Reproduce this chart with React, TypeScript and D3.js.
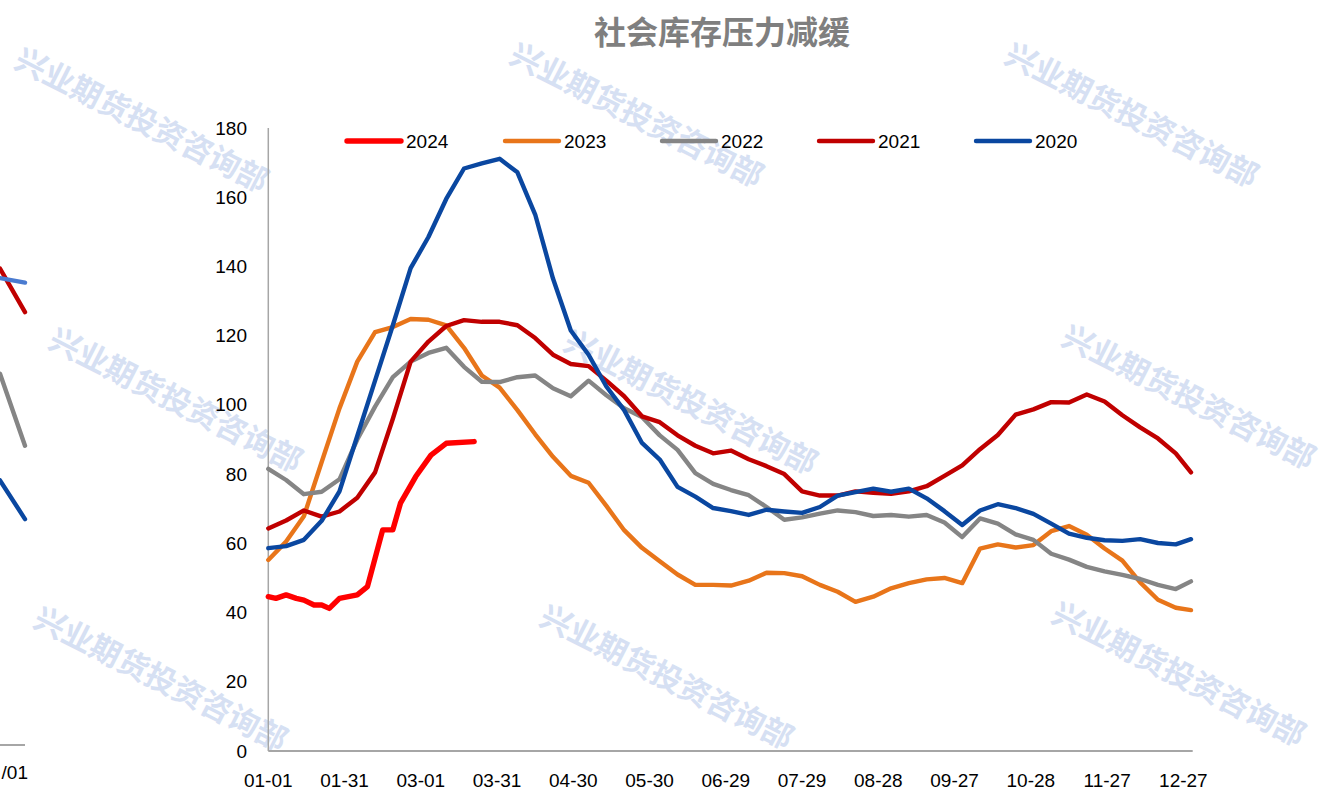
import React from "react";
import * as d3 from "d3";

const W = 1337;
const H = 789;

const title = "社会库存压力减缓";
const watermarkText = "兴业期货投资咨询部";

// day-of-year grid (weekly) for 2020-2023
const weekDays = [0, 7, 14, 21, 28, 35, 42, 49, 56, 63, 70, 77, 84, 91, 98, 105, 112, 119, 126, 133, 140, 147, 154, 161, 168, 175, 182, 189, 196, 203, 210, 217, 224, 231, 238, 245, 252, 259, 266, 273, 280, 287, 294, 301, 308, 315, 322, 329, 336, 343, 350, 357, 363];

const days2024 = [0, 3, 7, 11, 14, 18, 21, 24, 28, 35, 39, 45, 49, 52, 58, 64, 70, 81];
const values2024 = [44.6, 44.1, 45.1, 44.1, 43.6, 42.2, 42.2, 41.2, 44.1, 45.1, 47.5, 63.9, 63.9, 71.6, 79.3, 85.5, 88.9, 89.4];

const values2023 = [55.2, 60.5, 67.8, 83.5, 99, 112.5, 121, 122.5, 124.8, 124.6, 123, 116.5, 108.5, 105, 98.5, 91.5, 85, 79.5, 77.5, 70.8, 63.8, 58.7, 54.8, 51, 48, 48, 47.8, 49.2, 51.5, 51.4, 50.5, 48, 46, 43.1, 44.6, 47, 48.5, 49.6, 50, 48.5, 58.5, 59.7, 58.8, 59.5, 63.5, 65, 62.5, 58.5, 55, 48.7, 43.7, 41.4, 40.7];

const values2022 = [81.5, 78.3, 74.2, 74.9, 78.5, 90, 99.5, 108, 112.5, 115, 116.5, 111, 106.7, 106.6, 108, 108.5, 104.8, 102.5, 107, 102.8, 99, 96.5, 91.2, 87, 80.3, 77.2, 75.4, 73.9, 70.5, 66.8, 67.5, 68.6, 69.5, 69, 67.9, 68.2, 67.7, 68.2, 66, 61.8, 67.2, 65.7, 62.6, 61, 57, 55.3, 53.2, 51.9, 50.9, 49.7, 48, 46.8, 49];

const values2021 = [64.3, 66.6, 69.5, 67.7, 69.2, 73.2, 80.5, 96, 112.5, 118.3, 122.8, 124.5, 124, 124, 123, 119.3, 114.5, 111.8, 111.2, 107, 102.5, 96.7, 95, 91.2, 88.2, 86, 86.8, 84.3, 82.3, 80, 75, 73.8, 73.8, 75, 74.6, 74.3, 75, 76.5, 79.5, 82.5, 87.2, 91.3, 97.2, 98.7, 100.8, 100.7, 103, 101, 97, 93.5, 90.3, 86, 80.5];

const values2020 = [58.6, 59.2, 61, 66.5, 75, 91, 107, 123, 139.5, 148.5, 159.5, 168.3, 169.8, 171.1, 167.2, 155, 136.5, 121.5, 114.5, 105.3, 98.5, 89, 84.2, 76.3, 73.5, 70.2, 69.3, 68.2, 69.7, 69.2, 68.8, 70.5, 73.8, 74.8, 75.8, 74.9, 75.8, 73, 69.3, 65.3, 69.5, 71.3, 70.2, 68.5, 65.7, 62.8, 61.6, 60.9, 60.7, 61.2, 60.1, 59.7, 61.2];

const seriesNames = ["2024", "2023", "2022", "2021", "2020"];
const seriesColors = ["#FF0000", "#E8751A", "#858585", "#C00000", "#0A47A0"];
const seriesWidths = [5.4, 4.4, 4.4, 4.4, 4.4];

const xTickDays = [0, 30, 60, 90, 120, 150, 180, 210, 240, 270, 300, 330, 360];
const xTickLabels = ["01-01", "01-31", "03-01", "03-31", "04-30", "05-30", "06-29", "07-29", "08-28", "09-27", "10-28", "11-27", "12-27"];
const yTicks = [0, 20, 40, 60, 80, 100, 120, 140, 160, 180];

// fragment of the neighbouring chart at the left edge
const fragPos = [0, 1];
const fragRed = [139, 126.3];
const fragLightBlue = [136.2, 134.9];
const fragGray = [108.3, 87.3];
const fragBlue = [77.2, 65.9];

const watermarkCenters: [number, number][] = [
  [143, 118], [638, 113], [1133, 113],
  [177, 398], [692, 400], [1190, 395],
  [162, 677], [668, 675], [1180, 672],
];

export default function App() {
  const x = d3.scaleLinear().domain([0, 363]).range([268.3, 1191]);
  const y = d3.scaleLinear().domain([0, 180]).range([751, 128]);

  const series = [
    { days: days2024, vals: values2024 },
    { days: weekDays, vals: values2023 },
    { days: weekDays, vals: values2022 },
    { days: weekDays, vals: values2021 },
    { days: weekDays, vals: values2020 },
  ];

  const line = d3
    .line<[number, number]>()
    .x((d) => x(d[0]))
    .y((d) => y(d[1]))
    .curve(d3.curveLinear);

  const fx = d3.scaleLinear().domain([0, 1]).range([0, 25]);
  const fy = d3.scaleLinear().domain([0, 180]).range([745, 128]);
  const fragLine = d3
    .line<[number, number]>()
    .x((d) => fx(d[0]))
    .y((d) => fy(d[1]));
  const frags = [
    { vals: fragRed, color: "#C00000" },
    { vals: fragLightBlue, color: "#4A7BD0" },
    { vals: fragGray, color: "#858585" },
    { vals: fragBlue, color: "#0A47A0" },
  ];

  const legendLineX = [347, 505, 662, 819, 976];
  const legendY = 141;

  return (
    <svg
      width={W}
      height={H}
      style={{ position: "absolute", left: 0, top: 0, background: "#fff" }}
      fontFamily="'Liberation Sans', Arial, sans-serif"
    >
      <rect x={0} y={0} width={W} height={H} fill="#fff" />

      {/* watermarks */}
      {watermarkCenters.map(([cx, cy], i) => (
        <text
          key={"wm" + i}
          x={cx}
          y={cy}
          transform={`rotate(27 ${cx} ${cy})`}
          textAnchor="middle"
          dominantBaseline="central"
          fontFamily="'Noto Sans CJK SC', sans-serif"
          fontWeight="bold"
          fontSize={31}
          fill="#C9D6EF"
          opacity={0.75}
        >
          {watermarkText}
        </text>
      ))}

      {/* left fragment */}
      <line x1={0} x2={25} y1={745} y2={745} stroke="#A6A6A6" strokeWidth={2} />
      <text x={28} y={772} textAnchor="end" dominantBaseline="central" fontSize={19} fill="#000">
        /01
      </text>
      {frags.map((f, i) => (
        <path
          key={"fr" + i}
          d={fragLine(fragPos.map((p, j) => [p, f.vals[j]] as [number, number])) || ""}
          fill="none"
          stroke={f.color}
          strokeWidth={4.4}
          strokeLinecap="round"
        />
      ))}

      {/* title */}
      <text
        x={722}
        y={30}
        textAnchor="middle"
        dominantBaseline="central"
        fontFamily="'Noto Sans CJK SC', sans-serif"
        fontWeight="bold"
        fontSize={32}
        fill="#7F7F7F"
      >
        {title}
      </text>

      {/* axes */}
      <line x1={268.3} x2={268.3} y1={128} y2={751} stroke="#A6A6A6" strokeWidth={1.5} />
      <line x1={268.3} x2={1192.7} y1={751} y2={751} stroke="#A6A6A6" strokeWidth={2} />

      {yTicks.map((t) => (
        <text key={"yt" + t} x={247} y={y(t)} textAnchor="end" dominantBaseline="central" fontSize={19} fill="#000">
          {t}
        </text>
      ))}
      {xTickDays.map((d, i) => (
        <text key={"xt" + d} x={x(d)} y={780} textAnchor="middle" dominantBaseline="central" fontSize={19} fill="#000">
          {xTickLabels[i]}
        </text>
      ))}

      {/* series */}
      {series.map((s, i) => (
        <path
          key={"s" + i}
          d={line(s.days.map((d, j) => [d, s.vals[j]] as [number, number])) || ""}
          fill="none"
          stroke={seriesColors[i]}
          strokeWidth={seriesWidths[i]}
          strokeLinejoin="round"
          strokeLinecap="round"
        />
      ))}

      {/* legend */}
      {seriesNames.map((n, i) => (
        <g key={"lg" + n}>
          <line
            x1={legendLineX[i]}
            x2={legendLineX[i] + 54}
            y1={legendY}
            y2={legendY}
            stroke={seriesColors[i]}
            strokeWidth={seriesWidths[i]}
            strokeLinecap="round"
          />
          <text x={legendLineX[i] + 59} y={legendY} dominantBaseline="central" fontSize={19} fill="#000">
            {n}
          </text>
        </g>
      ))}
    </svg>
  );
}
